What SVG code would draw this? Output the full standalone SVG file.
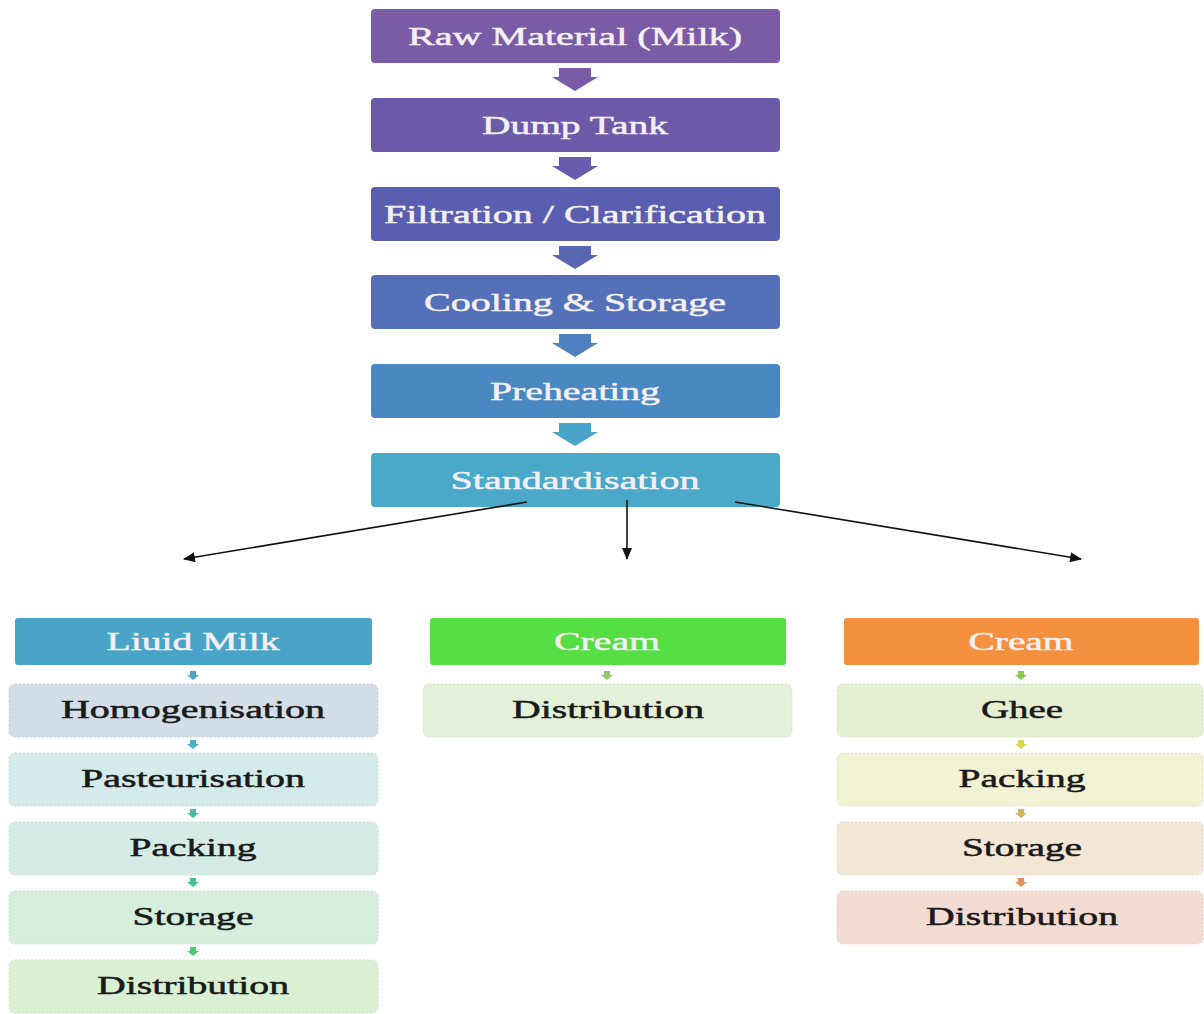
<svg xmlns="http://www.w3.org/2000/svg" width="1204" height="1014" viewBox="0 0 1204 1014">
<defs>
<style>
.main{stroke:none}
.t{font-family:"Liberation Serif","Times New Roman",serif;font-size:25px;font-weight:normal;text-anchor:middle;stroke-width:0.5}
.w{fill:#f4f0f6;stroke:#f4f0f6}
.k{fill:#1a1a1a;stroke:#1a1a1a}
.sub{stroke-width:1;stroke-dasharray:2 2}
.conn{stroke:#111;stroke-width:1.6;fill:none}
</style>
<marker id="ah" viewBox="0 0 12 10" refX="11" refY="5" markerWidth="12" markerHeight="10" markerUnits="userSpaceOnUse" orient="auto">
<path d="M0,0 L12,5 L0,10 z" fill="#111"/>
</marker>
</defs>
<rect width="1204" height="1014" fill="#fff"/>

<g id="n-raw"><rect x="371" y="9" width="409" height="54" rx="4" fill="#7b5ba6"/><text class="t w" x="575" y="45" textLength="334" lengthAdjust="spacingAndGlyphs">Raw Material (Milk)</text></g>
<g id="n-dump"><rect x="371" y="98" width="409" height="54" rx="4" fill="#6c5aa9"/><text class="t w" x="575" y="134" textLength="186" lengthAdjust="spacingAndGlyphs">Dump Tank</text></g>
<g id="n-filt"><rect x="371" y="187" width="409" height="54" rx="4" fill="#5a5eb1"/><text class="t w" x="575" y="223" textLength="382" lengthAdjust="spacingAndGlyphs">Filtration / Clarification</text></g>
<g id="n-cool"><rect x="371" y="275" width="409" height="54" rx="4" fill="#5470b9"/><text class="t w" x="575" y="311" textLength="302" lengthAdjust="spacingAndGlyphs">Cooling &amp; Storage</text></g>
<g id="n-pre"><rect x="371" y="364" width="409" height="54" rx="4" fill="#4a88c2"/><text class="t w" x="575" y="400" textLength="170" lengthAdjust="spacingAndGlyphs">Preheating</text></g>
<g id="n-std"><rect x="371" y="453" width="409" height="54" rx="4" fill="#4aa8c8"/><text class="t w" x="575" y="489" textLength="249" lengthAdjust="spacingAndGlyphs">Standardisation</text></g>

<g id="n-liquid"><rect x="15" y="618" width="357" height="47" rx="3" fill="#4aa4c8"/><text class="t w" x="193" y="650" textLength="173" lengthAdjust="spacingAndGlyphs">Liuid Milk</text></g>
<g id="n-l1"><rect class="sub" x="9" y="684" width="369" height="53" rx="6" fill="#d4dee9" stroke="#c4ced9"/><text class="t k" x="193" y="718" textLength="264" lengthAdjust="spacingAndGlyphs">Homogenisation</text></g>
<g id="n-l2"><rect class="sub" x="9" y="753" width="369" height="53" rx="6" fill="#d3ebea" stroke="#c3dbda"/><text class="t k" x="193" y="787" textLength="224" lengthAdjust="spacingAndGlyphs">Pasteurisation</text></g>
<g id="n-l3"><rect class="sub" x="9" y="822" width="369" height="53" rx="6" fill="#d4ece5" stroke="#c4dcd5"/><text class="t k" x="193" y="856" textLength="127" lengthAdjust="spacingAndGlyphs">Packing</text></g>
<g id="n-l4"><rect class="sub" x="9" y="891" width="369" height="53" rx="6" fill="#d6eedc" stroke="#c6decc"/><text class="t k" x="193" y="925" textLength="121" lengthAdjust="spacingAndGlyphs">Storage</text></g>
<g id="n-l5"><rect class="sub" x="9" y="960" width="369" height="53" rx="6" fill="#d9f0d3" stroke="#c9e0c3"/><text class="t k" x="193" y="994" textLength="192" lengthAdjust="spacingAndGlyphs">Distribution</text></g>

<g id="n-cream1"><rect x="430" y="618" width="356" height="47" rx="3" fill="#55df44"/><text class="t w" x="607" y="650" textLength="106" lengthAdjust="spacingAndGlyphs">Cream</text></g>
<g id="n-m1"><rect class="sub" x="423" y="684" width="369" height="53" rx="6" fill="#e2f1d8" stroke="#d2e1c8"/><text class="t k" x="608" y="718" textLength="192" lengthAdjust="spacingAndGlyphs">Distribution</text></g>

<g id="n-cream2"><rect x="844" y="618" width="355" height="47" rx="3" fill="#f5903f"/><text class="t w" x="1021" y="650" textLength="105" lengthAdjust="spacingAndGlyphs">Cream</text></g>
<g id="n-r1"><rect class="sub" x="837" y="684" width="366" height="53" rx="6" fill="#e5f0d3" stroke="#d5e0c3"/><text class="t k" x="1022" y="718" textLength="82" lengthAdjust="spacingAndGlyphs">Ghee</text></g>
<g id="n-r2"><rect class="sub" x="837" y="753" width="366" height="53" rx="6" fill="#f1f1d4" stroke="#e1e1c4"/><text class="t k" x="1022" y="787" textLength="127" lengthAdjust="spacingAndGlyphs">Packing</text></g>
<g id="n-r3"><rect class="sub" x="837" y="822" width="366" height="53" rx="6" fill="#f3e6d4" stroke="#e3d6c4"/><text class="t k" x="1022" y="856" textLength="120" lengthAdjust="spacingAndGlyphs">Storage</text></g>
<g id="n-r4"><rect class="sub" x="837" y="891" width="366" height="53" rx="6" fill="#f5dcd3" stroke="#e5ccc3"/><text class="t k" x="1022" y="925" textLength="192" lengthAdjust="spacingAndGlyphs">Distribution</text></g>

<g id="connectors">
<polygon points="559,68 591,68 591,77 598,77 575,91 552,77 559,77" fill="#7b5ba6"/>
<polygon points="559,157 591,157 591,166 598,166 575,180 552,166 559,166" fill="#6a5aab"/>
<polygon points="559,246 591,246 591,255 598,255 575,269 552,255 559,255" fill="#5866b4"/>
<polygon points="559,334 591,334 591,343 598,343 575,357 552,343 559,343" fill="#4f7fbf"/>
<polygon points="559,423 591,423 591,432 598,432 575,446 552,432 559,432" fill="#4aa3c8"/>

<line class="conn" x1="527" y1="502" x2="184" y2="559" marker-end="url(#ah)"/>
<line class="conn" x1="627" y1="500" x2="627" y2="559" marker-end="url(#ah)"/>
<line class="conn" x1="735" y1="502" x2="1081" y2="559" marker-end="url(#ah)"/>

<path d="M190,671 h6 v4 h3 l-6,5 l-6,-5 h3 z" fill="#4aa4c8"/>
<path d="M190,740 h6 v4 h3 l-6,5 l-6,-5 h3 z" fill="#4ab0c0"/>
<path d="M190,809 h6 v4 h3 l-6,5 l-6,-5 h3 z" fill="#4ab8a8"/>
<path d="M190,878 h6 v4 h3 l-6,5 l-6,-5 h3 z" fill="#4ac08c"/>
<path d="M190,947 h6 v4 h3 l-6,5 l-6,-5 h3 z" fill="#4cc870"/>

<path d="M604,671 h6 v4 h3 l-6,5 l-6,-5 h3 z" fill="#8ccc66"/>

<path d="M1018,671 h6 v4 h3 l-6,5 l-6,-5 h3 z" fill="#86cc4a"/>
<path d="M1018,740 h6 v4 h3 l-6,5 l-6,-5 h3 z" fill="#d6d84a"/>
<path d="M1018,809 h6 v4 h3 l-6,5 l-6,-5 h3 z" fill="#d8b060"/>
<path d="M1018,878 h6 v4 h3 l-6,5 l-6,-5 h3 z" fill="#e0905a"/>
</g>
</svg>
